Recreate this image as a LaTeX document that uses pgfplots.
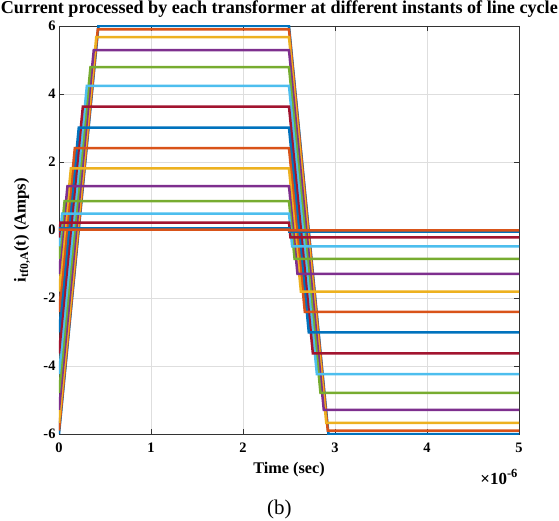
\documentclass[border=0pt]{standalone}
\usepackage{pgfplots}
\pgfplotsset{compat=1.18}
\usepackage{fontspec}
\setmainfont{Liberation Serif}

% MATLAB default line colours
\definecolor{mblue}{rgb}{0,0.447,0.741}
\definecolor{morange}{rgb}{0.850,0.325,0.098}
\definecolor{myellow}{rgb}{0.929,0.694,0.125}
\definecolor{mpurple}{rgb}{0.494,0.184,0.556}
\definecolor{mgreen}{rgb}{0.466,0.674,0.188}
\definecolor{mcyan}{rgb}{0.301,0.745,0.933}
\definecolor{mred}{rgb}{0.635,0.078,0.184}

\pgfplotscreateplotcyclelist{matlab}{
  {mblue},{morange},{myellow},{mpurple},{mgreen},{mcyan},{mred}}

\begin{document}
\begin{tikzpicture}
\begin{axis}[
    scale only axis,
    width=460bp, height=408bp,
    xmin=0, xmax=5, ymin=-6, ymax=6,
    xtick={0,1,2,3,4,5}, xticklabels={0,1,2,3,4,5},
    ytick={-6,-4,-2,0,2,4,6}, yticklabels={-6,-4,-2,0,2,4,6},
    tick align=inside, major tick length=5bp,
    grid=major,
    grid style={color=black!13, line width=0.6bp},
    axis line style={color=black!80, line width=0.9bp},
    tick style={color=black!80, line width=0.8bp},
    ticklabel style={font=\fontsize{14.5}{16}\selectfont\bfseries},
    xticklabel style={anchor=base, yshift=-18bp},
    title={Current processed by each transformer at different instants of line cycle},
    title style={font=\fontsize{18.2}{20}\selectfont\bfseries,
        at={(axis description cs:0.479,1.017)}, anchor=base},
    xlabel={Time (sec)},
    xlabel style={font=\fontsize{16.3}{18}\selectfont\bfseries,
        at={(axis description cs:0.5,-0.097)}, anchor=base},
    every axis y label/.style={font=\fontsize{16.8}{18}\selectfont\bfseries,
        at={(axis description cs:-0.0804,0.5)}, rotate=90, anchor=center},
    ylabel={i\textsubscript{tf0,A}(t) (Amps)},
    cycle list name=matlab,
    every axis plot/.append style={line width=2.5bp, line join=miter},
    clip mode=individual,
]
\addplot coordinates {(0,-6.00) (0.4286,6.00) (2.5,6.00) (2.9286,-6.00) (5,-6.00)};
\addplot coordinates {(0,-5.90) (0.4214,5.90) (2.5,5.90) (2.9214,-5.90) (5,-5.90)};
\addplot coordinates {(0,-5.67) (0.4050,5.67) (2.5,5.67) (2.9050,-5.67) (5,-5.67)};
\addplot coordinates {(0,-5.29) (0.3779,5.29) (2.5,5.29) (2.8779,-5.29) (5,-5.29)};
\addplot coordinates {(0,-4.79) (0.3421,4.79) (2.5,4.79) (2.8421,-4.79) (5,-4.79)};
\addplot coordinates {(0,-4.24) (0.3029,4.24) (2.5,4.24) (2.8029,-4.24) (5,-4.24)};
\addplot coordinates {(0,-3.63) (0.2593,3.63) (2.5,3.63) (2.7593,-3.63) (5,-3.63)};
\addplot coordinates {(0,-3.01) (0.2150,3.01) (2.5,3.01) (2.7150,-3.01) (5,-3.01)};
\addplot coordinates {(0,-2.41) (0.1721,2.41) (2.5,2.41) (2.6721,-2.41) (5,-2.41)};
\addplot coordinates {(0,-1.81) (0.1293,1.81) (2.5,1.81) (2.6293,-1.81) (5,-1.81)};
\addplot coordinates {(0,-1.29) (0.0921,1.29) (2.5,1.29) (2.5921,-1.29) (5,-1.29)};
\addplot coordinates {(0,-0.85) (0.0607,0.85) (2.5,0.85) (2.5607,-0.85) (5,-0.85)};
\addplot coordinates {(0,-0.48) (0.0343,0.48) (2.5,0.48) (2.5343,-0.48) (5,-0.48)};
\addplot coordinates {(0,-0.22) (0.0157,0.22) (2.5,0.22) (2.5157,-0.22) (5,-0.22)};
\addplot coordinates {(0,-0.05) (0.0036,0.05) (2.5,0.05) (2.5036,-0.05) (5,-0.05)};
\addplot coordinates {(0,-0.01) (0.0007,0.01) (2.5,0.01) (2.5007,-0.01) (5,-0.01)};

\node[anchor=base east, font=\fontsize{17}{18}\selectfont\bfseries, inner sep=0pt]
    at (axis description cs:0.997,-0.123)
    {×10\raisebox{0.42em}{\fontsize{12.5}{13}\selectfont -6}};
\node[anchor=base, font=\fontsize{21}{23}\selectfont]
    at (axis description cs:0.479,-0.197) {(b)};

\coordinate (ll) at (rel axis cs:0,0);
\coordinate (ur) at (rel axis cs:1,1);
\end{axis}
\pgfresetboundingbox
\path[use as bounding box] ([shift={(-59bp,-87bp)}]ll) rectangle ([shift={(40bp,26bp)}]ur);
\end{tikzpicture}
\end{document}
